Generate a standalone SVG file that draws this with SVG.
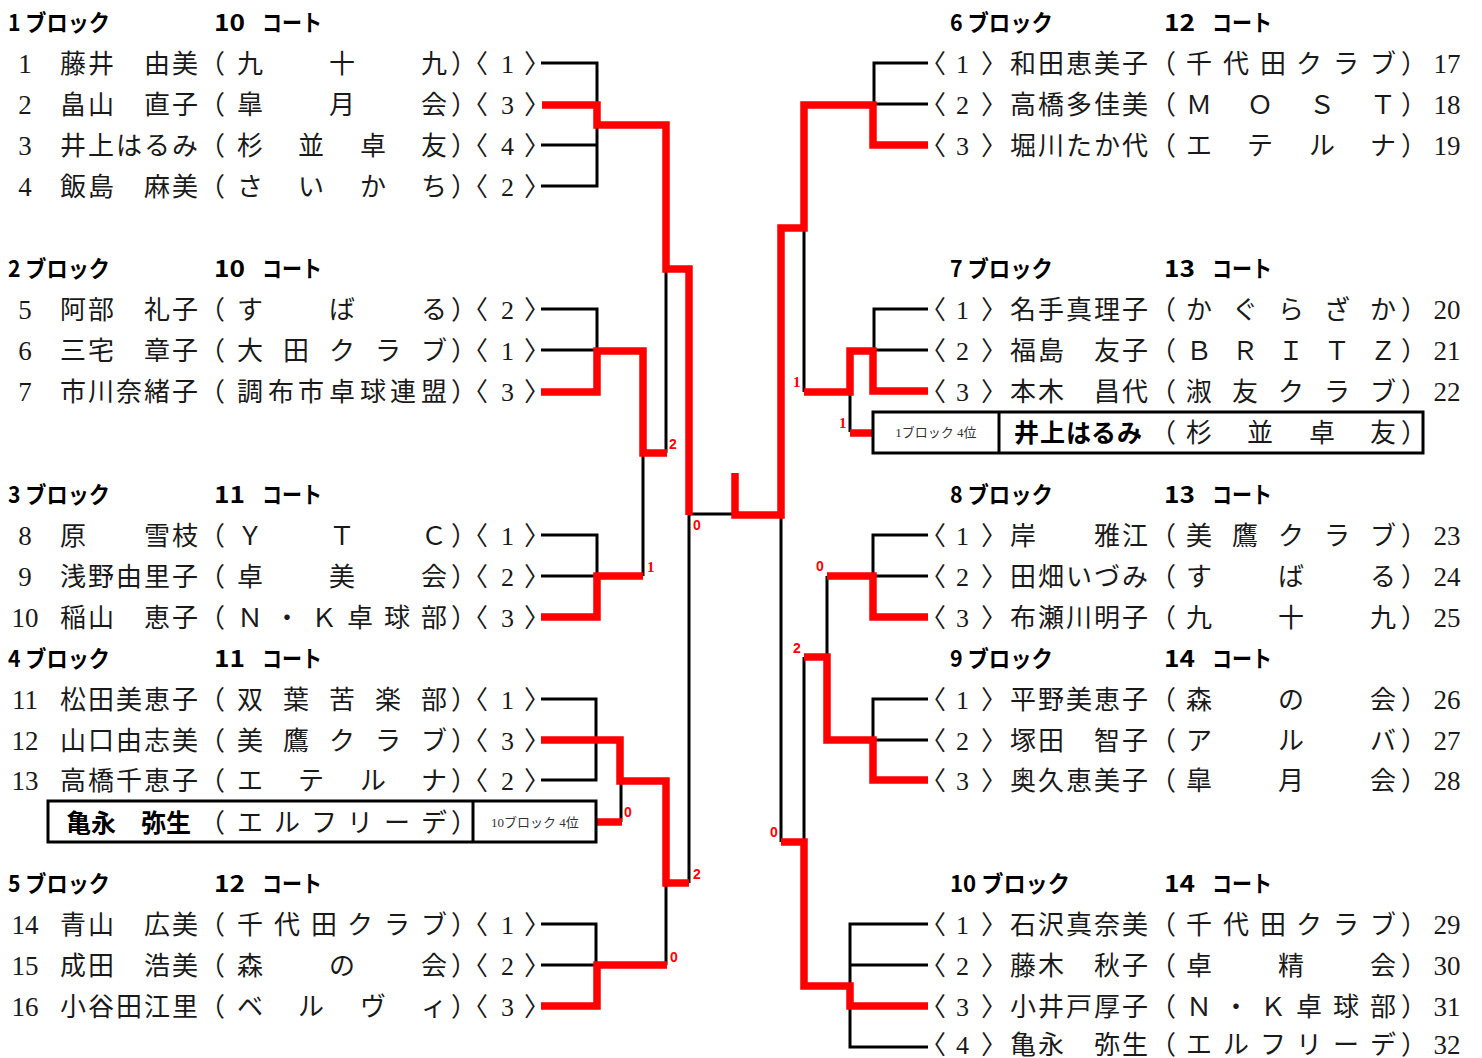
<svg xmlns="http://www.w3.org/2000/svg" width="1482" height="1058" viewBox="0 0 1482 1058">
<style>
.hd{font-family:"Noto Sans CJK JP","Liberation Sans",sans-serif;font-weight:700;font-size:23px;fill:#000}
.r{font-family:"Liberation Serif","Noto Sans CJK JP",serif;font-size:26px;fill:#1a1a1a}
.n{font-family:"Liberation Serif","Noto Sans CJK JP",serif;font-size:27px;fill:#1a1a1a;text-anchor:middle}
.bx{font-family:"Noto Sans CJK JP",sans-serif;font-weight:700;font-size:25px;fill:#000}
.sm{font-family:"Liberation Serif","Noto Sans CJK JP",serif;font-size:13px;fill:#333;text-anchor:middle}
.lb{font-family:"Liberation Sans",sans-serif;font-weight:700;font-size:14px;fill:#f00}
.ls{font-family:"Liberation Serif",serif;font-weight:700;font-size:15px;fill:#f00}
.k{fill:none;stroke:#000;stroke-width:3}
.w{fill:none;stroke:#f00;stroke-width:7.5}
.box{fill:none;stroke:#000;stroke-width:3}
</style>

<g id="headers">
<text class="hd" x="8" y="31" textLength="102" lengthAdjust="spacingAndGlyphs">1 ブロック</text>
<text class="hd" y="31"><tspan x="214" textLength="31" lengthAdjust="spacingAndGlyphs">10</tspan><tspan x="262" textLength="60" lengthAdjust="spacingAndGlyphs">コート</tspan></text>
<text class="hd" x="8" y="277" textLength="102" lengthAdjust="spacingAndGlyphs">2 ブロック</text>
<text class="hd" y="277"><tspan x="214" textLength="31" lengthAdjust="spacingAndGlyphs">10</tspan><tspan x="262" textLength="60" lengthAdjust="spacingAndGlyphs">コート</tspan></text>
<text class="hd" x="8" y="503" textLength="102" lengthAdjust="spacingAndGlyphs">3 ブロック</text>
<text class="hd" y="503"><tspan x="214" textLength="31" lengthAdjust="spacingAndGlyphs">11</tspan><tspan x="262" textLength="60" lengthAdjust="spacingAndGlyphs">コート</tspan></text>
<text class="hd" x="8" y="667" textLength="102" lengthAdjust="spacingAndGlyphs">4 ブロック</text>
<text class="hd" y="667"><tspan x="214" textLength="31" lengthAdjust="spacingAndGlyphs">11</tspan><tspan x="262" textLength="60" lengthAdjust="spacingAndGlyphs">コート</tspan></text>
<text class="hd" x="8" y="892" textLength="102" lengthAdjust="spacingAndGlyphs">5 ブロック</text>
<text class="hd" y="892"><tspan x="214" textLength="31" lengthAdjust="spacingAndGlyphs">12</tspan><tspan x="262" textLength="60" lengthAdjust="spacingAndGlyphs">コート</tspan></text>
<text class="hd" x="950" y="31" textLength="103" lengthAdjust="spacingAndGlyphs">6 ブロック</text>
<text class="hd" y="31"><tspan x="1164" textLength="31" lengthAdjust="spacingAndGlyphs">12</tspan><tspan x="1212" textLength="60" lengthAdjust="spacingAndGlyphs">コート</tspan></text>
<text class="hd" x="950" y="277" textLength="103" lengthAdjust="spacingAndGlyphs">7 ブロック</text>
<text class="hd" y="277"><tspan x="1164" textLength="31" lengthAdjust="spacingAndGlyphs">13</tspan><tspan x="1212" textLength="60" lengthAdjust="spacingAndGlyphs">コート</tspan></text>
<text class="hd" x="950" y="503" textLength="103" lengthAdjust="spacingAndGlyphs">8 ブロック</text>
<text class="hd" y="503"><tspan x="1164" textLength="31" lengthAdjust="spacingAndGlyphs">13</tspan><tspan x="1212" textLength="60" lengthAdjust="spacingAndGlyphs">コート</tspan></text>
<text class="hd" x="950" y="667" textLength="103" lengthAdjust="spacingAndGlyphs">9 ブロック</text>
<text class="hd" y="667"><tspan x="1164" textLength="31" lengthAdjust="spacingAndGlyphs">14</tspan><tspan x="1212" textLength="60" lengthAdjust="spacingAndGlyphs">コート</tspan></text>
<text class="hd" x="950" y="892" textLength="120" lengthAdjust="spacingAndGlyphs">10 ブロック</text>
<text class="hd" y="892"><tspan x="1164" textLength="31" lengthAdjust="spacingAndGlyphs">14</tspan><tspan x="1212" textLength="60" lengthAdjust="spacingAndGlyphs">コート</tspan></text>
</g>

<g id="connectors">
<path class="k" d="M541,63H597V186H541M541,145H597"/>
<path class="k" d="M541,309H597V350H541"/>
<path class="k" d="M666,268V453"/>
<path class="k" d="M541,535H597V576H541"/>
<path class="k" d="M643,453V576"/>
<path class="k" d="M689,514H735M689,514V883"/>
<path class="k" d="M541,699H596V780H541"/>
<path class="k" d="M621,781V822"/>
<path class="k" d="M541,924H596V965H541"/>
<path class="k" d="M666,883V965"/>
<path class="k" d="M928,63H874V104H928"/>
<path class="k" d="M928,309H874V350H928"/>
<path class="k" d="M804,228V392"/>
<path class="k" d="M850,392V432"/>
<path class="k" d="M928,535H873V576H928"/>
<path class="k" d="M827,576V657"/>
<path class="k" d="M928,699H873V740H928"/>
<path class="k" d="M804,657V842"/>
<path class="k" d="M781,515V842"/>
<path class="k" d="M928,924H850V1047H928M850,965H928"/>

<path class="w" d="M542,105H597V125H666V269H689V515"/>
<path class="w" d="M541,392H597V351H643V453H667"/>
<path class="w" d="M541,617H597V576H643"/>
<path class="w" d="M541,740H620V781H666V883H689"/>
<path class="w" d="M596,822H622"/>
<path class="w" d="M541,1006H597V965H667"/>
<path class="w" d="M928,145H873V105H804V228H781V515H735V473"/>
<path class="w" d="M928,391H873V351H850V392H804"/>
<path class="w" d="M873,433H850"/>
<path class="w" d="M928,617H873V576H827"/>
<path class="w" d="M928,780H873V740H827V657H804"/>
<path class="w" d="M928,1006H850V986H804V842H781"/>

<text class="lb" x="669" y="449">2</text>
<text class="ls" x="647" y="572">1</text>
<text class="lb" x="693" y="530">0</text>
<text class="lb" x="624" y="817">0</text>
<text class="lb" x="693" y="879">2</text>
<text class="lb" x="670" y="962">0</text>
<text class="ls" x="793" y="387">1</text>
<text class="ls" x="839" y="428">1</text>
<text class="lb" x="816" y="571">0</text>
<text class="lb" x="793" y="653">2</text>
<text class="lb" x="770" y="837">0</text>
</g>

<g id="p1"><text class="n" x="25" y="73">1</text><text class="r" y="73" x="60 88 116 144 172 199 237 329 421 451 462 501 524">藤井　由美（九十九）〈1〉</text></g>
<g id="p2"><text class="n" x="25" y="114">2</text><text class="r" y="114" x="60 88 116 144 172 199 237 329 421 451 462 501 524">畠山　直子（皐月会）〈3〉</text></g>
<g id="p3"><text class="n" x="25" y="155">3</text><text class="r" y="155" x="60 88 116 144 172 199 237 298 360 421 451 462 501 524">井上はるみ（杉並卓友）〈4〉</text></g>
<g id="p4"><text class="n" x="25" y="196">4</text><text class="r" y="196" x="60 88 116 144 172 199 237 298 360 421 451 462 501 524">飯島　麻美（さいかち）〈2〉</text></g>
<g id="p5"><text class="n" x="25" y="319">5</text><text class="r" y="319" x="60 88 116 144 172 199 237 329 421 451 462 501 524">阿部　礼子（すばる）〈2〉</text></g>
<g id="p6"><text class="n" x="25" y="360">6</text><text class="r" y="360" x="60 88 116 144 172 199 237 283 329 375 421 451 462 501 524">三宅　章子（大田クラブ）〈1〉</text></g>
<g id="p7"><text class="n" x="25" y="401">7</text><text class="r" y="401" x="60 88 116 144 172 199 237 268 298 329 360 390 421 451 462 501 524">市川奈緒子（調布市卓球連盟）〈3〉</text></g>
<g id="p8"><text class="n" x="25" y="545">8</text><text class="r" y="545" x="60 88 116 144 172 199 237 329 421 451 462 501 524">原　　雪枝（ＹＴＣ）〈1〉</text></g>
<g id="p9"><text class="n" x="25" y="586">9</text><text class="r" y="586" x="60 88 116 144 172 199 237 329 421 451 462 501 524">浅野由里子（卓美会）〈2〉</text></g>
<g id="p10"><text class="n" x="25" y="627">10</text><text class="r" y="627" x="60 88 116 144 172 199 237 274 311 347 384 421 451 462 501 524">稲山　恵子（Ｎ・Ｋ卓球部）〈3〉</text></g>
<g id="p11"><text class="n" x="25" y="709">11</text><text class="r" y="709" x="60 88 116 144 172 199 237 283 329 375 421 451 462 501 524">松田美恵子（双葉苦楽部）〈1〉</text></g>
<g id="p12"><text class="n" x="25" y="750">12</text><text class="r" y="750" x="60 88 116 144 172 199 237 283 329 375 421 451 462 501 524">山口由志美（美鷹クラブ）〈3〉</text></g>
<g id="p13"><text class="n" x="25" y="790">13</text><text class="r" y="790" x="60 88 116 144 172 199 237 298 360 421 451 462 501 524">高橋千恵子（エテルナ）〈2〉</text></g>
<g id="wild10">
<rect class="box" x="48" y="801" width="548" height="41"/>
<line class="k" x1="473" y1="801" x2="473" y2="842"/>
<text class="bx" y="832" x="66 91 116 141 166">亀永　弥生</text>
<text class="r" y="832" x="199 237 274 311 347 384 421 451">（エルフリーデ）</text>
<text class="sm" x="535" y="827">10ブロック 4位</text>
</g>
<g id="p14"><text class="n" x="25" y="934">14</text><text class="r" y="934" x="60 88 116 144 172 199 237 274 311 347 384 421 451 462 501 524">青山　広美（千代田クラブ）〈1〉</text></g>
<g id="p15"><text class="n" x="25" y="975">15</text><text class="r" y="975" x="60 88 116 144 172 199 237 329 421 451 462 501 524">成田　浩美（森の会）〈2〉</text></g>
<g id="p16"><text class="n" x="25" y="1016">16</text><text class="r" y="1016" x="60 88 116 144 172 199 237 298 360 421 451 462 501 524">小谷田江里（ベルヴィ）〈3〉</text></g>

<g id="p17"><text class="r" y="73" x="920 956 981 1010 1038 1066 1094 1122 1150 1186 1223 1260 1296 1333 1370 1401">〈1〉和田恵美子（千代田クラブ）</text><text class="n" x="1447" y="73">17</text></g>
<g id="p18"><text class="r" y="114" x="920 956 981 1010 1038 1066 1094 1122 1150 1186 1247 1309 1370 1401">〈2〉高橋多佳美（ＭＯＳＴ）</text><text class="n" x="1447" y="114">18</text></g>
<g id="p19"><text class="r" y="155" x="920 956 981 1010 1038 1066 1094 1122 1150 1186 1247 1309 1370 1401">〈3〉堀川たか代（エテルナ）</text><text class="n" x="1447" y="155">19</text></g>
<g id="p20"><text class="r" y="319" x="920 956 981 1010 1038 1066 1094 1122 1150 1186 1232 1278 1324 1370 1401">〈1〉名手真理子（かぐらざか）</text><text class="n" x="1447" y="319">20</text></g>
<g id="p21"><text class="r" y="360" x="920 956 981 1010 1038 1066 1094 1122 1150 1186 1232 1278 1324 1370 1401">〈2〉福島　友子（ＢＲＩＴＺ）</text><text class="n" x="1447" y="360">21</text></g>
<g id="p22"><text class="r" y="401" x="920 956 981 1010 1038 1066 1094 1122 1150 1186 1232 1278 1324 1370 1401">〈3〉本木　昌代（淑友クラブ）</text><text class="n" x="1447" y="401">22</text></g>
<g id="wild1">
<rect class="box" x="873" y="412" width="550" height="41"/>
<line class="k" x1="999" y1="412" x2="999" y2="453"/>
<text class="sm" x="936" y="437">1ブロック 4位</text>
<text class="bx" y="442" x="1014 1040 1066 1091 1117">井上はるみ</text>
<text class="r" y="442" x="1150 1186 1247 1309 1370 1401">（杉並卓友）</text>
</g>
<g id="p23"><text class="r" y="545" x="920 956 981 1010 1038 1066 1094 1122 1150 1186 1232 1278 1324 1370 1401">〈1〉岸　　雅江（美鷹クラブ）</text><text class="n" x="1447" y="545">23</text></g>
<g id="p24"><text class="r" y="586" x="920 956 981 1010 1038 1066 1094 1122 1150 1186 1278 1370 1401">〈2〉田畑いづみ（すばる）</text><text class="n" x="1447" y="586">24</text></g>
<g id="p25"><text class="r" y="627" x="920 956 981 1010 1038 1066 1094 1122 1150 1186 1278 1370 1401">〈3〉布瀬川明子（九十九）</text><text class="n" x="1447" y="627">25</text></g>
<g id="p26"><text class="r" y="709" x="920 956 981 1010 1038 1066 1094 1122 1150 1186 1278 1370 1401">〈1〉平野美恵子（森の会）</text><text class="n" x="1447" y="709">26</text></g>
<g id="p27"><text class="r" y="750" x="920 956 981 1010 1038 1066 1094 1122 1150 1186 1278 1370 1401">〈2〉塚田　智子（アルバ）</text><text class="n" x="1447" y="750">27</text></g>
<g id="p28"><text class="r" y="790" x="920 956 981 1010 1038 1066 1094 1122 1150 1186 1278 1370 1401">〈3〉奥久恵美子（皐月会）</text><text class="n" x="1447" y="790">28</text></g>
<g id="p29"><text class="r" y="934" x="920 956 981 1010 1038 1066 1094 1122 1150 1186 1223 1260 1296 1333 1370 1401">〈1〉石沢真奈美（千代田クラブ）</text><text class="n" x="1447" y="934">29</text></g>
<g id="p30"><text class="r" y="975" x="920 956 981 1010 1038 1066 1094 1122 1150 1186 1278 1370 1401">〈2〉藤木　秋子（卓精会）</text><text class="n" x="1447" y="975">30</text></g>
<g id="p31"><text class="r" y="1016" x="920 956 981 1010 1038 1066 1094 1122 1150 1186 1223 1260 1296 1333 1370 1401">〈3〉小井戸厚子（Ｎ・Ｋ卓球部）</text><text class="n" x="1447" y="1016">31</text></g>
<g id="p32"><text class="r" y="1054" x="920 956 981 1010 1038 1066 1094 1122 1150 1186 1223 1260 1296 1333 1370 1401">〈4〉亀永　弥生（エルフリーデ）</text><text class="n" x="1447" y="1054">32</text></g>
</svg>
